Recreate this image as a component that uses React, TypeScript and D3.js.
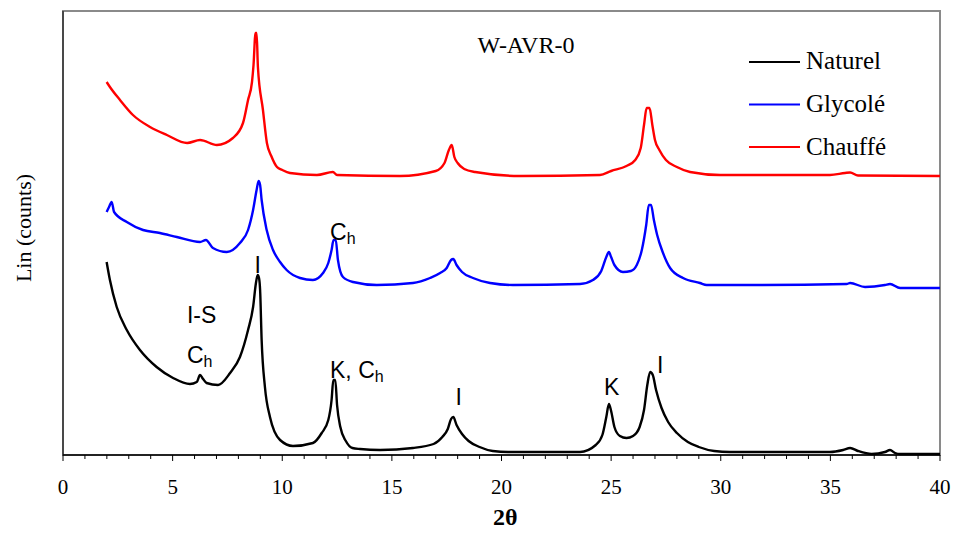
import React from "react";
import * as d3 from "d3";

// 2θ (degrees) and intensity (arbitrary counts, series stacked with offsets as displayed)
const naturelX = [1.99,2.14,2.45,2.91,3.51,4.27,5.02,5.79,6.1,6.25,6.39,6.55,7.07,7.62,8.07,8.44,8.67,8.8,8.88,8.94,8.99,9.06,9.21,9.44,9.9,10.49,11.4,11.8,12.1,12.25,12.33,12.42,12.5,12.65,12.9,13.2,13.55,14.46,15.96,16.9,17.3,17.55,17.7,17.8,17.95,18.2,18.5,19.0,19.6,20.3,23.58,24.3,24.6,24.78,24.9,25.0,25.15,25.4,25.7,26.0,26.3,26.5,26.65,26.78,26.9,27.05,27.3,27.6,28.0,28.5,29.0,29.7,30.42,34.98,35.58,35.9,36.26,36.88,37.49,37.72,37.95,38.18,40.0];
const naturelY = [193,175,148,125,105,88,77,71,73,80,76,72,70,82,98,125,148,172,180,177,165,115,68,38,15,9,12,22,35,55,75,75,50,28,14,7,6,5,7,11,18,26,36,38,30,21,14,8,4,3,3,10,20,38,51,44,28,19,17,19,28,45,70,83,80,65,47,33,22,13,8,4,3,3,5,7,4,1,3,5,2,1,1];

const glycoleX = [1.99,2.1,2.22,2.33,2.91,3.65,4.42,5.19,6.25,6.52,6.84,7.47,8.07,8.44,8.67,8.83,8.92,8.99,9.06,9.29,9.58,9.9,10.2,10.81,11.4,11.86,12.1,12.25,12.34,12.44,12.54,12.77,13.23,14.31,15.96,16.74,17.2,17.5,17.7,17.8,17.95,18.2,18.7,19.48,20.52,23.58,24.17,24.55,24.78,24.9,25.0,25.15,25.54,25.9,26.17,26.4,26.6,26.72,26.82,26.95,27.1,27.35,27.69,28.28,29.05,29.36,31.18,35.74,35.9,36.58,37.49,37.72,38.18,40.0];
const glycoleY = [243,248,253,243,233,225,222,218,213,215,207,203,212,225,245,265,274,270,255,225,205,193,185,177,175,182,192,205,215,215,195,178,173,170,172,177,182,187,195,196,190,183,177,172,170,171,175,184,198,203,198,190,183,184,190,205,230,250,250,235,220,203,187,177,172,170,170,171,172,168,170,171,167,167];

const chauffeX = [1.99,2.14,2.6,3.19,3.97,4.74,5.66,6.25,7.02,7.75,8.21,8.44,8.62,8.69,8.78,8.83,8.89,9.12,9.3,9.5,9.76,10.0,10.35,11.58,12.31,12.5,15.37,17.0,17.4,17.6,17.73,17.85,18.0,18.3,18.8,20.84,24.49,25.0,25.7,26.1,26.35,26.5,26.62,26.75,26.88,27.0,27.2,27.5,28.0,28.6,29.97,31.8,34.98,35.67,35.9,36.26,40.0];
const chauffeY = [373,368,355,340,328,320,312,315,310,317,332,355,373,390,422,422,388,345,312,299,288,285,282,280,283,280,279,284,292,305,310,298,292,286,283,279,280,284,289,295,307,330,347,347,330,315,305,295,288,283,280,280,280,282,282.5,279.5,279];

const seriesNames = ["Naturel", "Glycolé", "Chauffé"];
const seriesColors = ["#000000", "#0000ff", "#ff0000"];
const xTicks = [0, 5, 10, 15, 20, 25, 30, 35, 40];

type Ann = { text: string; sub?: string; x: number; y: number };
// annotation anchors in data units (2θ, counts)
const annotations: Ann[] = [
  { text: "I-S", x: 5.65, y: 132 },
  { text: "C", sub: "h", x: 5.65, y: 92 },
  { text: "I", x: 8.73, y: 182 },
  { text: "C", sub: "h", x: 12.18, y: 215 },
  { text: "K, C", sub: "h", x: 12.18, y: 77 },
  { text: "I", x: 17.9, y: 50 },
  { text: "K", x: 24.67, y: 60 },
  { text: "I", x: 27.09, y: 82 },
];

const W = 956, H = 533;
const M = { left: 63, right: 940, top: 11, bottom: 455 };

export default function App() {
  const x = d3.scaleLinear().domain([0, 40]).range([M.left, M.right]);
  const y = d3.scaleLinear().domain([0, 444]).range([M.bottom, M.top]);
  const line = d3.line<[number, number]>().x(d => x(d[0])).y(d => y(d[1])).curve(d3.curveMonotoneX);
  const series = [
    { name: seriesNames[0], color: seriesColors[0], pts: naturelX.map((v, i) => [v, naturelY[i]] as [number, number]) },
    { name: seriesNames[1], color: seriesColors[1], pts: glycoleX.map((v, i) => [v, glycoleY[i]] as [number, number]) },
    { name: seriesNames[2], color: seriesColors[2], pts: chauffeX.map((v, i) => [v, chauffeY[i]] as [number, number]) },
  ];
  const minor = d3.range(0, 41, 1);
  const serif = "'Liberation Serif', 'Times New Roman', serif";
  const sans = "'Liberation Sans', Arial, sans-serif";
  return (
    <svg width={W} height={H} style={{ position: "absolute", left: 0, top: 0, background: "#fff" }}>
      <rect x={M.left} y={M.top} width={M.right - M.left} height={M.bottom - M.top} fill="none" stroke="#8a8a8a" strokeWidth={2} />
      <line x1={M.left} x2={M.left} y1={M.top} y2={M.bottom} stroke="#333" strokeWidth={1.5} />
      {series.map(s => (
        <path key={s.name} d={line(s.pts) || ""} fill="none" stroke={s.color} strokeWidth={2.4} strokeLinejoin="round" />
      ))}
      <line x1={M.left} x2={M.right} y1={M.bottom} y2={M.bottom} stroke="#000" strokeWidth={1.5} />
      {minor.map(t => (
        <line key={t} x1={x(t)} x2={x(t)} y1={M.bottom} y2={M.bottom + (t % 5 === 0 ? 6 : 4)} stroke="#000" strokeWidth={1} />
      ))}
      {xTicks.map(t => (
        <text key={t} x={x(t)} y={494} textAnchor="middle" fontFamily={serif} fontSize={21} fill="#000">{t}</text>
      ))}
      <text x={493} y={525} fontFamily={serif} fontSize={24} fontWeight="bold" fill="#000">2θ</text>
      <text transform="translate(31,228) rotate(-90)" textAnchor="middle" fontFamily={serif} fontSize={22} fill="#000">Lin (counts)</text>
      <text x={526} y={53} textAnchor="middle" fontFamily={serif} fontSize={24} fill="#000">W-AVR-0</text>
      {series.map((s, i) => (
        <g key={s.name}>
          <line x1={749} x2={800} y1={62 + i * 42.5} y2={62 + i * 42.5} stroke={s.color} strokeWidth={2} />
          <text x={806} y={69 + i * 43} fontFamily={serif} fontSize={25} fill="#000">{s.name}</text>
        </g>
      ))}
      {annotations.map((a, i) => (
        <text key={i} x={x(a.x)} y={y(a.y)} fontFamily={sans} fontSize={23} fill="#000">
          {a.text}
          {a.sub && <tspan fontSize={16} dy={4}>{a.sub}</tspan>}
        </text>
      ))}
    </svg>
  );
}
